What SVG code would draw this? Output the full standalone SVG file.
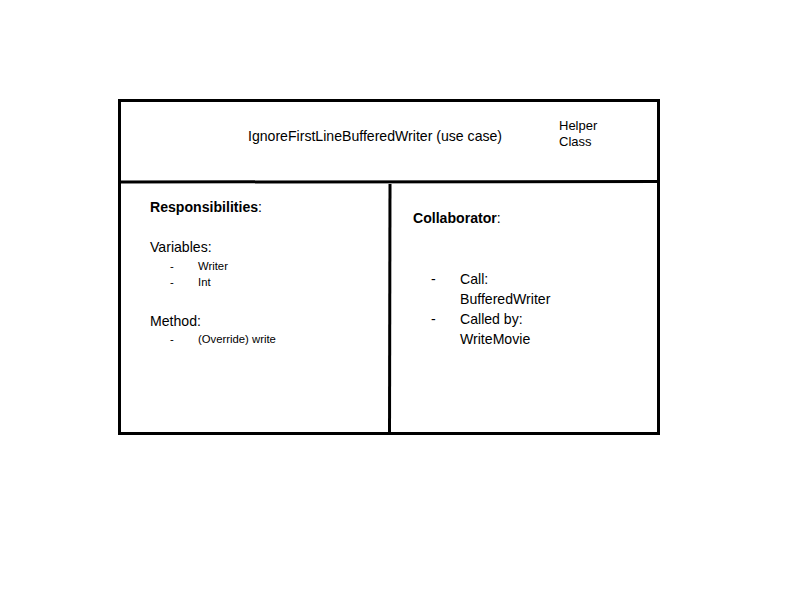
<svg xmlns="http://www.w3.org/2000/svg" width="800" height="600" viewBox="0 0 800 600">
<style>
text{font-family:"Liberation Sans",Arial,sans-serif;fill:#000}
.m{font-size:14.1px}
.s{font-size:11.3px}
.h{font-size:13px}
.b{font-weight:bold}
.ln{stroke:#000;stroke-width:3;fill:none}
</style>
<rect width="800" height="600" fill="#fff"/>
<g id="card">
<rect class="ln" x="119.5" y="100.5" width="539" height="333"/>
<line class="ln" x1="119.5" y1="182" x2="659" y2="181.5"/>
<line class="ln" x1="390" y1="184" x2="389.5" y2="433"/>
</g>
<g id="header">
<text class="m" x="248" y="141">IgnoreFirstLineBufferedWriter (use case)</text>
<text class="h" x="559" y="130">Helper</text>
<text class="h" x="559" y="146">Class</text>
</g>
<g id="responsibilities">
<text class="m" x="150" y="212"><tspan class="b">Responsibilities</tspan>:</text>
<text class="m" x="150" y="252">Variables:</text>
<text class="s" x="170" y="270">-</text>
<text class="s" x="198" y="270">Writer</text>
<text class="s" x="170" y="286">-</text>
<text class="s" x="198" y="286">Int</text>
<text class="m" x="150" y="326">Method:</text>
<text class="s" x="170" y="343">-</text>
<text class="s" x="198" y="343">(Override) write</text>
</g>
<g id="collaborator">
<text class="m" x="413" y="223"><tspan class="b">Collaborator</tspan>:</text>
<text class="m" x="431" y="284">-</text>
<text class="m" x="460" y="284">Call:</text>
<text class="m" x="460" y="304">BufferedWriter</text>
<text class="m" x="431" y="324">-</text>
<text class="m" x="460" y="324">Called by:</text>
<text class="m" x="460" y="344">WriteMovie</text>
</g>
<g id="connectors"/>
</svg>
